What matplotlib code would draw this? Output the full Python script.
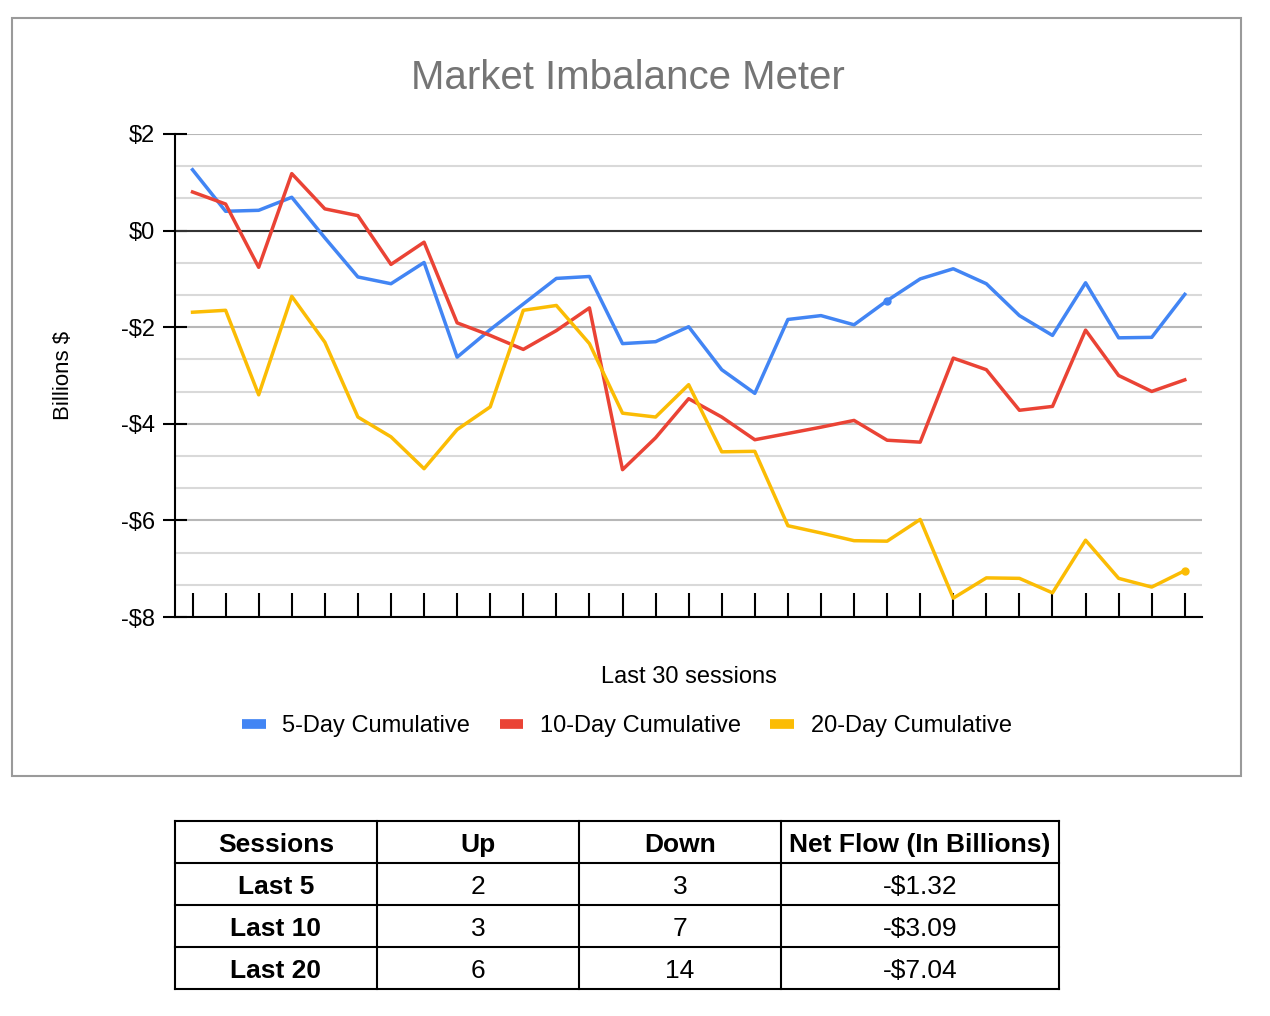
import numpy as np
import matplotlib.pyplot as plt
from matplotlib import font_manager
from matplotlib.ticker import MultipleLocator, FixedLocator
from matplotlib.patches import Rectangle

plt.rcParams['font.family'] = ['Liberation Sans', 'DejaVu Sans']

# 31 sessions, cumulative net flow in billions
sessions = list(range(31))
five_day = [1.26, 0.40, 0.42, 0.69, -0.15, -0.96, -1.10, -0.66, -2.62, -2.05,
            -1.52, -0.99, -0.95, -2.34, -2.30, -1.99, -2.88, -3.37, -1.84, -1.76,
            -1.95, -1.45, -1.00, -0.79, -1.10, -1.76, -2.17, -1.08, -2.22, -2.21,
            -1.32]
ten_day = [0.80, 0.55, -0.76, 1.18, 0.45, 0.31, -0.70, -0.24, -1.91, -2.17,
           -2.46, -2.07, -1.60, -4.95, -4.29, -3.48, -3.86, -4.33, -4.20, -4.07,
           -3.93, -4.34, -4.38, -2.64, -2.88, -3.72, -3.64, -2.06, -3.00, -3.33,
           -3.09]
twenty_day = [-1.69, -1.65, -3.40, -1.36, -2.31, -3.86, -4.27, -4.93, -4.12, -3.65,
              -1.65, -1.55, -2.34, -3.78, -3.86, -3.19, -4.58, -4.57, -6.11, -6.26,
              -6.42, -6.43, -5.98, -7.61, -7.19, -7.20, -7.50, -6.41, -7.20, -7.38,
              -7.04]

y_ticks = [2, 0, -2, -4, -6, -8]
y_labels = ['$2', '$0', '-$2', '-$4', '-$6', '-$8']

table_header = ['Sessions', 'Up', 'Down', 'Net Flow (In Billions)']
table_rows = [['Last 5', '2', '3', '-$1.32'],
              ['Last 10', '3', '7', '-$3.09'],
              ['Last 20', '6', '14', '-$7.04']]

blue = '#4285F4'
red = '#EA4335'
yellow = '#FBBC04'

fig = plt.figure(figsize=(12.7, 10.16), dpi=100)

# chart frame
fig.patches.append(Rectangle((12/1270, 240/1016), 1229/1270, 758/1016,
                             transform=fig.transFigure, fill=False,
                             edgecolor='#9a9a9a', linewidth=1.5))

ax = fig.add_axes([175/1270, 399/1016, 1027/1270, 483/1016])
ax.plot(sessions, five_day, color=blue, lw=2.5, label='5-Day Cumulative')
ax.plot(sessions, ten_day, color=red, lw=2.5, label='10-Day Cumulative')
ax.plot(sessions, twenty_day, color=yellow, lw=2.5, label='20-Day Cumulative')
ax.plot(sessions[21], five_day[21], 'o', color=blue, ms=5)
ax.plot(sessions[30], twenty_day[30], 'o', color=yellow, ms=5)

ax.set_xlim(-0.53, 30.52)
ax.set_ylim(-8, 2)
ax.yaxis.set_major_locator(FixedLocator(y_ticks))
ax.set_yticklabels(y_labels, fontsize=17)
ax.yaxis.set_minor_locator(MultipleLocator(2/3))
ax.grid(which='major', axis='y', color='#b7b7b7', lw=1.5)
ax.grid(which='minor', axis='y', color='#d9d9d9', lw=1.5)
ax.axhline(0, color='#333333', lw=1.5, zorder=1.5)
ax.tick_params(axis='y', which='major', direction='inout', length=17, width=1.5, pad=6)
ax.tick_params(axis='y', which='minor', length=0)
ax.set_xticks(sessions)
ax.set_xticklabels([])
ax.tick_params(axis='x', direction='in', length=17, width=1.5, color='black')
for s in ['top', 'right']:
    ax.spines[s].set_visible(False)
ax.spines['left'].set_linewidth(1.5)
ax.spines['bottom'].set_linewidth(1.5)
ax.set_axisbelow(True)

ax.set_xlabel('Last 30 sessions', fontsize=17, labelpad=32)
ax.set_ylabel('Billions $', fontsize=16, labelpad=34)
fig.text(628/1270, 1 - 78/1016, 'Market Imbalance Meter', ha='center', va='center',
         fontsize=29, color='#757575')

leg = ax.legend(loc='center', bbox_to_anchor=(0.440, -0.225), ncol=3, frameon=False,
                fontsize=17, handlelength=1.0, handleheight=0.45, columnspacing=1.25,
                handletextpad=0.7)
for h in leg.get_lines():
    h.set_linewidth(7)
    h.set_solid_capstyle('butt')

# summary table
names = {f.name for f in font_manager.fontManager.ttflist}
if 'Liberation Sans Narrow' in names:
    tfont = ['Liberation Sans Narrow', 'DejaVu Sans']
    tsize = 21
else:
    tfont = ['Liberation Sans', 'DejaVu Sans']
    tsize = 19

tax = fig.add_axes([175/1270, 27/1016, 884/1270, 168/1016])
tax.set_axis_off()
col_w = [202, 202, 202, 278]
col_edges = np.concatenate([[0], np.cumsum(col_w)]) / sum(col_w)
rows = [table_header] + table_rows
nrow = len(rows)
for i in range(nrow + 1):
    tax.plot([0, 1], [i / nrow, i / nrow], color='black', lw=1.5, clip_on=False)
for e in col_edges:
    tax.plot([e, e], [0, 1], color='black', lw=1.5, clip_on=False)
for r, row in enumerate(rows):
    yc = 1 - (r + 0.5) / nrow - 0.015
    for c, txt in enumerate(row):
        xc = (col_edges[c] + col_edges[c + 1]) / 2
        bold = (r == 0) or (c == 0)
        tax.text(xc, yc, txt, ha='center', va='center', fontsize=tsize,
                 fontweight='bold' if bold else 'normal', family=tfont)
tax.set_xlim(0, 1)
tax.set_ylim(0, 1)

fig.savefig('out.png', dpi=100)
